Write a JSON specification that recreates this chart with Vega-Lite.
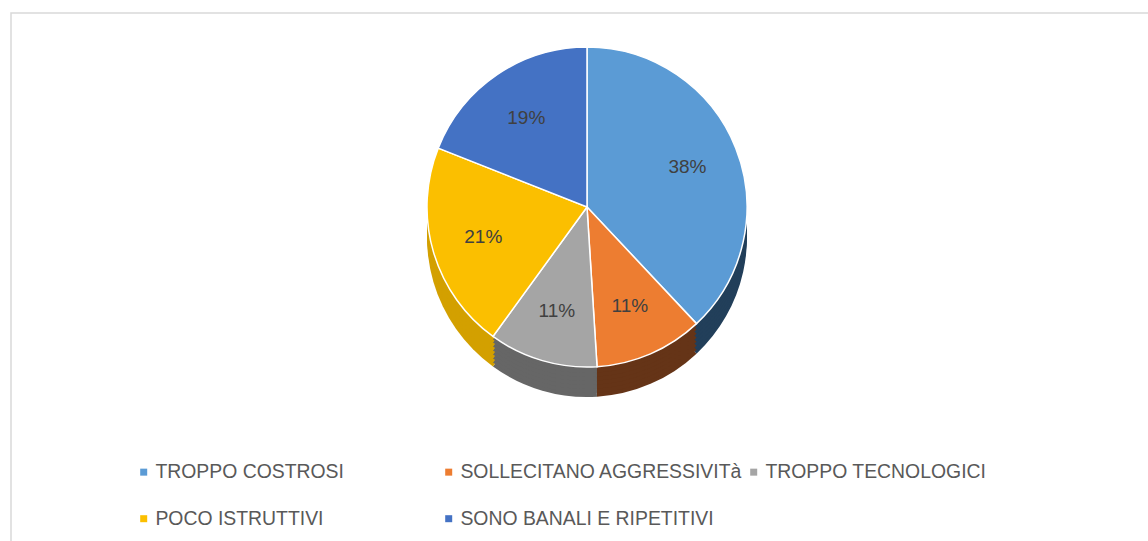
{
  "$schema": "https://vega.github.io/schema/vega-lite/v6.json",
  "width": 1150,
  "height": 540,
  "padding": {"left": 11, "top": 13, "right": 0, "bottom": 0},
  "autosize": {"type": "none"},
  "background": "white",
  "view": {"stroke": "#d9d9d9", "strokeWidth": 1.5, "fill": "white"},
  "data": {"values": [
    {"cat": "TROPPO COSTROSI", "share": 0.38, "ord": 1},
    {"cat": "SOLLECITANO AGGRESSIVITà", "share": 0.11, "ord": 2},
    {"cat": "TROPPO TECNOLOGICI", "share": 0.11, "ord": 3},
    {"cat": "POCO ISTRUTTIVI", "share": 0.21, "ord": 4},
    {"cat": "SONO BANALI E RIPETITIVI", "share": 0.19, "ord": 5}
  ]},
  "encoding": {
    "theta": {"field": "share", "type": "quantitative", "stack": true},
    "order": {"field": "ord", "type": "quantitative"}
  },
  "layer": [
    {
      "mark": {"type": "arc", "radius": 160, "xOffset": 1, "yOffset": -46},
      "encoding": {"color": {"field": "cat", "type": "nominal", "legend": null,
        "scale": {"domain": ["TROPPO COSTROSI", "SOLLECITANO AGGRESSIVITà", "TROPPO TECNOLOGICI", "POCO ISTRUTTIVI", "SONO BANALI E RIPETITIVI"],
                  "range": ["#223f5a", "#653417", "#666666", "#d3a000", "#2c4f86"]}}}
    },
    {
      "mark": {"type": "arc", "radius": 160, "xOffset": 1, "yOffset": -50},
      "encoding": {"color": {"field": "cat", "type": "nominal", "legend": null,
        "scale": {"domain": ["TROPPO COSTROSI", "SOLLECITANO AGGRESSIVITà", "TROPPO TECNOLOGICI", "POCO ISTRUTTIVI", "SONO BANALI E RIPETITIVI"],
                  "range": ["#223f5a", "#653417", "#666666", "#d3a000", "#2c4f86"]}}}
    },
    {
      "mark": {"type": "arc", "radius": 160, "xOffset": 1, "yOffset": -54},
      "encoding": {"color": {"field": "cat", "type": "nominal", "legend": null,
        "scale": {"domain": ["TROPPO COSTROSI", "SOLLECITANO AGGRESSIVITà", "TROPPO TECNOLOGICI", "POCO ISTRUTTIVI", "SONO BANALI E RIPETITIVI"],
                  "range": ["#223f5a", "#653417", "#666666", "#d3a000", "#2c4f86"]}}}
    },
    {
      "mark": {"type": "arc", "radius": 160, "xOffset": 1, "yOffset": -58},
      "encoding": {"color": {"field": "cat", "type": "nominal", "legend": null,
        "scale": {"domain": ["TROPPO COSTROSI", "SOLLECITANO AGGRESSIVITà", "TROPPO TECNOLOGICI", "POCO ISTRUTTIVI", "SONO BANALI E RIPETITIVI"],
                  "range": ["#223f5a", "#653417", "#666666", "#d3a000", "#2c4f86"]}}}
    },
    {
      "mark": {"type": "arc", "radius": 160, "xOffset": 1, "yOffset": -62},
      "encoding": {"color": {"field": "cat", "type": "nominal", "legend": null,
        "scale": {"domain": ["TROPPO COSTROSI", "SOLLECITANO AGGRESSIVITà", "TROPPO TECNOLOGICI", "POCO ISTRUTTIVI", "SONO BANALI E RIPETITIVI"],
                  "range": ["#223f5a", "#653417", "#666666", "#d3a000", "#2c4f86"]}}}
    },
    {
      "mark": {"type": "arc", "radius": 160, "xOffset": 1, "yOffset": -66},
      "encoding": {"color": {"field": "cat", "type": "nominal", "legend": null,
        "scale": {"domain": ["TROPPO COSTROSI", "SOLLECITANO AGGRESSIVITà", "TROPPO TECNOLOGICI", "POCO ISTRUTTIVI", "SONO BANALI E RIPETITIVI"],
                  "range": ["#223f5a", "#653417", "#666666", "#d3a000", "#2c4f86"]}}}
    },
    {
      "mark": {"type": "arc", "radius": 160, "xOffset": 1, "yOffset": -70},
      "encoding": {"color": {"field": "cat", "type": "nominal", "legend": null,
        "scale": {"domain": ["TROPPO COSTROSI", "SOLLECITANO AGGRESSIVITà", "TROPPO TECNOLOGICI", "POCO ISTRUTTIVI", "SONO BANALI E RIPETITIVI"],
                  "range": ["#223f5a", "#653417", "#666666", "#d3a000", "#2c4f86"]}}}
    },
    {
      "mark": {"type": "arc", "radius": 160, "xOffset": 1, "yOffset": -73},
      "encoding": {"color": {"field": "cat", "type": "nominal", "legend": null,
        "scale": {"domain": ["TROPPO COSTROSI", "SOLLECITANO AGGRESSIVITà", "TROPPO TECNOLOGICI", "POCO ISTRUTTIVI", "SONO BANALI E RIPETITIVI"],
                  "range": ["#223f5a", "#653417", "#666666", "#d3a000", "#2c4f86"]}}}
    },
    {
      "mark": {"type": "arc", "radius": 160, "xOffset": 1, "yOffset": -76, "stroke": "white", "strokeWidth": 1.5},
      "encoding": {"color": {"field": "cat", "type": "nominal",
        "scale": {"domain": ["TROPPO COSTROSI", "SOLLECITANO AGGRESSIVITà", "TROPPO TECNOLOGICI", "POCO ISTRUTTIVI", "SONO BANALI E RIPETITIVI"],
                  "range": ["#5b9bd5", "#ed7d31", "#a5a5a5", "#fbbf00", "#4472c4"]},
        "legend": {"title": null, "orient": "none", "direction": "horizontal", "legendX": 123, "legendY": 449, "columns": 3, "gridAlign": "all",
                   "columnPadding": 1, "rowPadding": 26, "symbolType": "square", "symbolSize": 49, "symbolStrokeWidth": 0,
                   "labelFontSize": 19.4, "labelFont": "Liberation Sans", "labelColor": "#595959", "labelOffset": 2, "labelLimit": 400}}}
    },
    {
      "mark": {"type": "text", "radius": 108, "xOffset": 1, "yOffset": -76, "fontSize": 19, "font": "Liberation Sans", "color": "#404040"},
      "encoding": {"text": {"field": "share", "type": "quantitative", "format": ".0%"}}
    }
  ],
  "resolve": {"scale": {"color": "independent"}}
}
